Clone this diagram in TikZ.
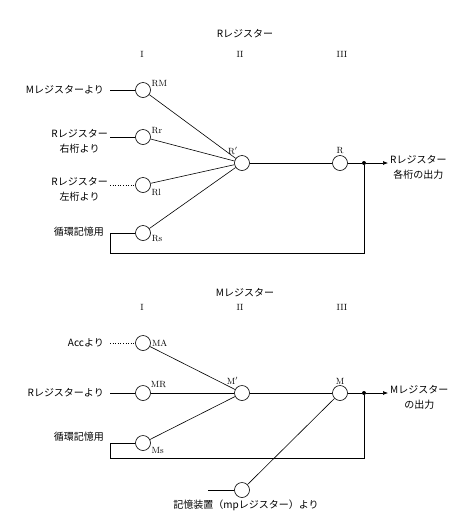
\documentclass[tikz,border=0pt]{standalone}
\usepackage{fontspec}
\usepackage{tikz}
\usetikzlibrary{positioning, arrows.meta}
\newfontfamily\jpfont{Noto Sans CJK JP}
\tikzset{
  gate/.style    ={circle, draw, line width=0.6pt, minimum size=15pt, inner sep=0pt},
  jptext/.style  ={font=\jpfont\fontsize{10}{15}\selectfont, inner sep=1pt, align=center},
  gatelbl/.style ={font=\fontsize{9}{10}\selectfont, inner sep=1pt},
  collbl/.style  ={font=\fontsize{9}{10}\selectfont},
  wire/.style    ={line width=0.6pt},
  dotwire/.style ={wire, dotted},
  outarr/.style  ={wire, -{Latex[length=5pt, width=4pt]}},
  tap/.style     ={circle, fill, inner sep=0pt, minimum size=4pt},
}
\begin{document}
\begin{tikzpicture}[x=1pt, y=-1pt]
\useasboundingbox (0,0) rectangle (475,520);

% R register
\node[jptext] (rtitle) at (245,34) {Rレジスター};
\node[collbl] (rc1) at (142,54) {I};
\node[collbl] (rc2) at (240,54) {II};
\node[collbl] (rc3) at (342,54) {III};

\node[gate, label={[gatelbl]15:RM}] (rm) at (143,90) {};
\node[gate, label={[gatelbl]15:Rr}] (rr) at (143,137) {};
\node[gate, label={[gatelbl]-20:Rl}] (rl) at (143,185) {};
\node[gate, label={[gatelbl]-10:Rs}] (rs) at (143,233) {};
\node[gate, label={[gatelbl]115:R$'$}] (rp) at (242,163) {};
\node[gate, label={[gatelbl]90:R}] (r) at (340,163) {};
\node[tap] (rdot) at (364,163) {};
\coordinate (rout) at (388,163);

\coordinate (rmin) at (110,90);
\coordinate (rrin) at (110,137);
\coordinate (rlin) at (110,185);
\coordinate (rsin) at (110,233);
\coordinate (rloop) at (110,253);

\node[jptext, anchor=east] (rmtxt) at (105,90) {Mレジスターより};
\node[jptext, anchor=north east] (rrtxt) at (109,128) {Rレジスター\\右桁より};
\node[jptext, anchor=north east] (rltxt) at (109,176) {Rレジスター\\左桁より};
\node[jptext, anchor=east] (rstxt) at (105,232) {循環記憶用};
\node[jptext, anchor=north west] (routtxt) at (389,154) {Rレジスター\\各桁の出力};

\draw[wire] (rmin) -- (rm);
\draw[wire] (rrin) -- (rr);
\draw[dotwire] (rlin) -- (rl);
\draw[wire] (rs) -- (rsin) -- (rloop) -| (rdot);
\draw[wire] (rm) -- (rp);
\draw[wire] (rr) -- (rp);
\draw[wire] (rl) -- (rp);
\draw[wire] (rs) -- (rp);
\draw[wire] (rp) -- (r);
\draw[wire] (r) -- (rdot);
\draw[outarr] (rdot) -- (rout);

% M register
\node[jptext] (mtitle) at (245,293) {Mレジスター};
\node[collbl] (mc1) at (142,307) {I};
\node[collbl] (mc2) at (240,307) {II};
\node[collbl] (mc3) at (342,307) {III};

\node[gate, label={[gatelbl]0:MA}] (ma) at (143,343) {};
\node[gate, label={[gatelbl]30:MR}] (mr) at (143,393) {};
\node[gate, label={[gatelbl]-20:Ms}] (ms) at (143,443) {};
\node[gate, label={[gatelbl]110:M$'$}] (mp) at (242,393) {};
\node[gate, label={[gatelbl]90:M}] (m) at (340,393) {};
\node[tap] (mdot) at (364,393) {};
\coordinate (mout) at (388,393);
\node[gate] (mem) at (242,490) {};

\coordinate (main) at (110,343);
\coordinate (mrin) at (110,393);
\coordinate (msin) at (110,443);
\coordinate (mloop) at (110,458);
\coordinate (memin) at (208,490);

\node[jptext, anchor=east] (matxt) at (105,343) {Accより};
\node[jptext, anchor=east] (mrtxt) at (105,393) {Rレジスターより};
\node[jptext, anchor=east] (mstxt) at (105,437) {循環記憶用};
\node[jptext, anchor=north west] (mouttxt) at (389,384) {Mレジスター\\の出力};
\node[jptext] (memtxt) at (246,505) {記憶装置（mpレジスター）より};

\draw[dotwire] (main) -- (ma);
\draw[wire] (mrin) -- (mr);
\draw[wire] (ms) -- (msin) -- (mloop) -| (mdot);
\draw[wire] (ma) -- (mp);
\draw[wire] (mr) -- (mp);
\draw[wire] (ms) -- (mp);
\draw[wire] (mp) -- (m);
\draw[wire] (m) -- (mdot);
\draw[outarr] (mdot) -- (mout);
\draw[wire] (memin) -- (mem);
\draw[wire] (mem) -- (m);
\end{tikzpicture}
\end{document}
